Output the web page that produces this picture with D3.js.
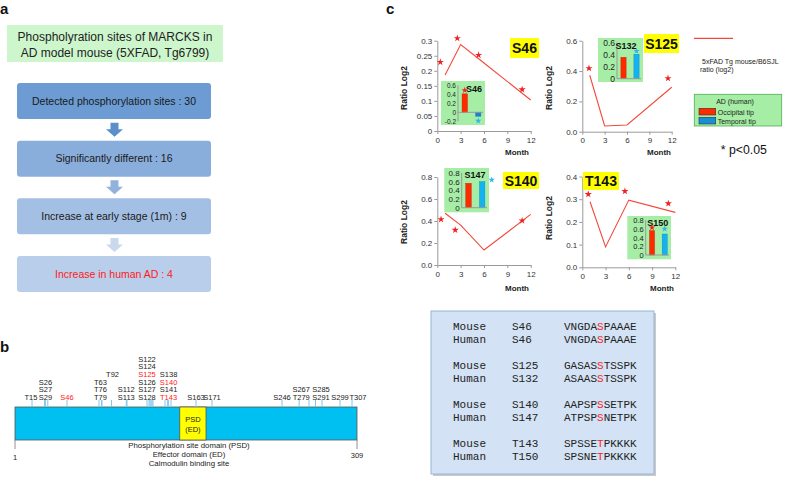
<!DOCTYPE html>
<html><head><meta charset="utf-8">
<script src="https://cdn.jsdelivr.net/npm/d3@7/dist/d3.min.js"></script>
<style>
html,body{margin:0;padding:0;background:#fff;}
svg{display:block;font-family:"Liberation Sans",Arial,Helvetica,sans-serif;}
</style></head>
<body>
<svg id="fig" width="787" height="478"></svg>
<script>
// ================= DATA =================
// Panel a
const flowTitle = ["Phospholyration sites of MARCKS in", "AD model mouse (5XFAD, Tg6799)"];
const flowSteps = ["Detected phosphorylation sites : 30", "Significantly different : 16",
                   "Increase at early stage (1m) : 9", "Increase in human AD : 4"];
const flowHighlight = [false, false, false, true];

// Panel b
const proteinLength = 309;
const psdRange = [150, 168];
const psdLabel = ["PSD", "(ED)"];
const domainNotes = ["Phosphorylation site domain (PSD)", "Effector domain (ED)", "Calmodulin binding site"];
const siteResidues = [15,26,27,29,46,63,76,79,92,112,113,122,124,125,126,127,128,138,140,141,143,163,171,246,267,279,285,291,299,307];
const siteStacks = [["T15"],["S26","S27","S29"],["S46"],["T63","T76","T79"],["T92"],["S112","S113"],
  ["S122","S124","S125","S126","S127","S128"],["S138","S140","S141","T143"],["S163"],["S171"],
  ["S246"],["S267","T279"],["S285","S291"],["S299"],["T307"]];
const stackAnchors = [15,27,46,76,92,112,122,141,163,171,246,267,291,299,307];
const stackBaseRow = [0,0,0,0,3,0,0,0,0,0,0,0,0,0,0];
const redSites = ["S46","S125","S140","T143"];

// Panel c
const months = [1, 3, 6, 12];
const monthTicks = [0, 3, 6, 9, 12];
const monthLabels = ["0", "3", "6", "9", "12"];
const chartNames = ["S46", "S125", "S140", "T143"];
const ratioS46  = [0.186, 0.287, 0.226, 0.103];
const ratioS125 = [0.372, 0.038, 0.044, 0.293];
const ratioS140 = [0.470, 0.362, 0.136, 0.460];
const ratioT143 = [0.289, 0.090, 0.296, 0.242];
const starsS46  = [[0.39,0.229],[2.57,0.308],[5.3,0.252],[10.9,0.138]];
const starsS125 = [[0.9,0.418],[11.5,0.352]];
const starsS140 = [[0.48,0.415],[2.3,0.318],[10.9,0.403]];
const starsT143 = [[0.77,0.322],[5.5,0.335],[11.1,0.281]];
const yTicksS46 = [0,0.05,0.1,0.15,0.2,0.25,0.3];
const yLabelsS46 = ["0","0.05","0.1","0.15","0.2","0.25","0.3"];
const yTicksS125 = [0,0.2,0.4,0.6];
const yLabelsS125 = ["0.0","0.2","0.4","0.6"];
const yTicksS140 = [0,0.2,0.4,0.6,0.8];
const yLabelsS140 = ["0.0","0.2","0.4","0.6","0.8"];
const yTicksT143 = [0,0.1,0.2,0.3,0.4];
const yLabelsT143 = ["0.0","0.1","0.2","0.3","0.4"];

const tissues = ["Occipital tip", "Temporal tip"];
const insetNames = ["S46", "S132", "S147", "S150"];
const insetS46  = [0.41, -0.09];
const insetS132 = [0.357, 0.407];
const insetS147 = [0.56, 0.598];
const insetS150 = [0.559, 0.483];
const insetStarsS46  = [[0, 0.49], [1, -0.19]];
const insetStarsS132 = [[1, 0.46]];
const insetStarsS147 = [[1, 0.64]];
const insetStarsS150 = [[0, 0.63], [1, 0.6]];
const insetTicksS46 = [-0.2,0,0.2,0.4,0.6];
const insetLabelsS46 = ["-0.2","0","0.2","0.4","0.6"];
const insetTicksS132 = [0,0.2,0.4,0.6];
const insetLabelsS132 = ["0","0.2","0.4","0.6"];
const insetTicks08 = [0,0.2,0.4,0.6,0.8];
const insetLabels08 = ["0","0.2","0.4","0.6","0.8"];

const legendLine = ["5xFAD Tg mouse/B6SJL", "ratio (log2)"];
const legendTitle = "AD (human)";
const pNote = "* p<0.05";

const seqSpecies = ["Mouse","Human","Mouse","Human","Mouse","Human","Mouse","Human"];
const seqSites = ["S46","S46","S125","S132","S140","S147","T143","T150"];
const seqPeptides = ["VNGDASPAAAE","VNGDASPAAAE","GASASSTSSPK","ASAASSTSSPK","AAPSPSSETPK","ATPSPSNETPK","SPSSETPKKKK","SPSNETPKKKK"];
const seqSiteIndex = 5;

// ================= DRAW =================
const FONT = "'Liberation Sans', Arial, Helvetica, sans-serif";
const svg = d3.select("#fig");
const RED = "#ee2222";

function letter(t, x, y) {
  svg.append("text").attr("x", x).attr("y", y).attr("font-size", 15).attr("font-weight", "bold")
     .attr("fill", "#111").text(t);
}
letter("a", 0, 14); letter("b", 0, 352); letter("c", 386, 14);

// ---------- Panel a ----------
const gA = svg.append("g");
gA.append("rect").attr("x", 7).attr("y", 25).attr("width", 216).attr("height", 37).attr("fill", "#cdf6cd");
gA.selectAll("text.t").data(flowTitle).join("text").attr("class","t")
  .attr("x", 115).attr("y", (d, i) => 40.7 + i * 16.6).attr("text-anchor", "middle")
  .attr("font-size", 12).attr("fill", "#222").text(d => d);

const stepY = d3.scaleLinear().domain([0, 3]).range([83, 256]);
const stepColors = ["#6c9cd3", "#8aaedb", "#a3bfe4", "#b8ceea"];
const arrowColors = ["#5b8ecb", "#92b1dc", "#cad8ee"];
const boxH = 36;
gA.selectAll("rect.step").data(flowSteps).join("rect").attr("class","step")
  .attr("x", 17).attr("y", (d, i) => stepY(i)).attr("width", 194).attr("height", boxH).attr("rx", 3)
  .attr("fill", (d, i) => stepColors[i]);
gA.selectAll("text.step").data(flowSteps).join("text").attr("class","step")
  .attr("x", 114).attr("y", (d, i) => stepY(i) + boxH / 2 + 3.8).attr("text-anchor", "middle")
  .attr("font-size", 10.5).attr("fill", (d, i) => flowHighlight[i] ? "#ff1a1a" : "#1a1a1a").text(d => d);
function arrowPath(cx, y0, y1) {
  return `M${cx-4},${y0}L${cx+4},${y0}L${cx+4},${y1-7.5}L${cx+8.5},${y1-7.5}L${cx},${y1}L${cx-8.5},${y1-7.5}L${cx-4},${y1-7.5}Z`;
}
d3.range(3).forEach(i => {
  gA.append("path").attr("d", arrowPath(114.5, stepY(i) + boxH + 3.7, stepY(i + 1) - 4)).attr("fill", arrowColors[i]);
});

// ---------- Panel b ----------
const gB = svg.append("g");
const knotRes = [1, 15, 46, 63, 79, 113, 122, 128, 143, 163, 171, 246, 279, 291, 299, 307, 309];
const knotPx  = [15, 32, 67, 99, 102, 127, 147, 153, 171, 196, 212, 282, 309, 322, 340, 352, 357];
const labelShift = [-1,0,0,-1,1,0,0,0,0,0,0,2,-1,0,6];
const rs = d3.scaleLinear().domain(knotRes).range(knotPx);
const barTop = 407, barBot = 440;
gB.append("rect").attr("x", rs(1)).attr("y", barTop).attr("width", rs(proteinLength) - rs(1))
  .attr("height", barBot - barTop).attr("fill", "#00bff1").attr("stroke", "#555").attr("stroke-width", 0.8);
gB.append("rect").attr("x", rs(psdRange[0])).attr("y", barTop).attr("width", rs(psdRange[1]) - rs(psdRange[0]))
  .attr("height", barBot - barTop).attr("fill", "#ffff00").attr("stroke", "#555").attr("stroke-width", 0.8);
psdLabel.forEach((t, i) => gB.append("text").attr("x", (rs(psdRange[0]) + rs(psdRange[1])) / 2)
  .attr("y", 422 + i * 9.5).attr("text-anchor", "middle").attr("font-size", 7.5).attr("fill", "#222").text(t));
gB.selectAll("line.site").data(siteResidues).join("line").attr("class","site")
  .attr("x1", d => rs(d)).attr("x2", d => rs(d)).attr("y1", 400).attr("y2", barTop)
  .attr("stroke", "#82c6ec").attr("stroke-width", 1);
[1, proteinLength].forEach(r => gB.append("line").attr("x1", rs(r)).attr("x2", rs(r))
  .attr("y1", barBot).attr("y2", barBot + 9).attr("stroke", "#777").attr("stroke-width", 0.8));
gB.append("text").attr("x", rs(1)).attr("y", 459.5).attr("text-anchor", "middle").attr("font-size", 7.5).attr("fill", "#222").text("1");
gB.append("text").attr("x", rs(proteinLength)).attr("y", 458).attr("text-anchor", "middle").attr("font-size", 7.5).attr("fill", "#222").text(String(proteinLength));
domainNotes.forEach((t, i) => gB.append("text").attr("x", 189).attr("y", 447.8 + i * 9.3)
  .attr("text-anchor", "middle").attr("font-size", 7.8).attr("fill", "#222").text(t));
siteStacks.forEach((stack, si) => {
  const n = stack.length;
  stack.forEach((lab, k) => {
    const row = stackBaseRow[si] + (n - 1 - k);
    gB.append("text").attr("x", rs(stackAnchors[si]) + labelShift[si]).attr("y", 399.7 - row * 7.6)
      .attr("text-anchor", "middle").attr("font-size", 7.5)
      .attr("fill", redSites.includes(lab) ? "#ff2020" : "#222").text(lab);
  });
});

// ---------- Panel c ----------
const charts = [
  {name: chartNames[0], ratio: ratioS46, stars: starsS46, yTicks: yTicksS46, yLabels: yLabelsS46,
   inset: insetNames[0], vals: insetS46, iStars: insetStarsS46, iTicks: insetTicksS46, iLabels: insetLabelsS46},
  {name: chartNames[1], ratio: ratioS125, stars: starsS125, yTicks: yTicksS125, yLabels: yLabelsS125,
   inset: insetNames[1], vals: insetS132, iStars: insetStarsS132, iTicks: insetTicksS132, iLabels: insetLabelsS132},
  {name: chartNames[2], ratio: ratioS140, stars: starsS140, yTicks: yTicksS140, yLabels: yLabelsS140,
   inset: insetNames[2], vals: insetS147, iStars: insetStarsS147, iTicks: insetTicks08, iLabels: insetLabels08},
  {name: chartNames[3], ratio: ratioT143, stars: starsT143, yTicks: yTicksT143, yLabels: yLabelsT143,
   inset: insetNames[3], vals: insetS150, iStars: insetStarsS150, iTicks: insetTicks08, iLabels: insetLabels08}
];
const layouts = [
  {l: 437.3, r: 530.7, b: 131, t: 40.7, ylab: [407, 88], month: [517, 152], badge: [510, 38, 29, 20],
   ib: [441, 81, 44, 44], iax: 458, iz: 112.3, ipu: 45, ititle: [474, 89], ifs: 6.5, starShift: [0, 0]},
  {l: 582.3, r: 671.7, b: 131.7, t: 40.7, ylab: [552, 88], month: [659, 152], badge: [644, 34, 35, 19],
   ib: [598, 38, 45, 44], iax: 617, iz: 78.7, ipu: 60, ititle: [626, 45.7], ifs: 8.5, starShift: [0, 0]},
  {l: 437.3, r: 530.7, b: 265, t: 177, ylab: [407, 222], month: [517, 288], badge: [503, 172, 36, 17],
   ib: [444.3, 168, 44.7, 44.3], iax: 461.7, iz: 207.7, ipu: 43.5, ititle: [475, 174.3], ifs: 8, starShift: [0, 9.5]},
  {l: 582.3, r: 675.3, b: 267.3, t: 176.5, ylab: [552, 218], month: [662, 288], badge: [583, 172, 36, 18],
   ib: [627.3, 216, 43.7, 43.3], iax: 645.7, iz: 255, ipu: 43.5, ititle: [657.7, 222.7], ifs: 7.5, starShift: [0, 0]}
];
const star = d3.symbol().type(d3.symbolStar);

function styleAxis(a, fs) {
  a.attr("font-family", FONT).attr("font-size", fs);
  a.select(".domain").attr("stroke", "#9a9a9a");
  a.selectAll(".tick line").attr("stroke", "#9a9a9a");
  a.selectAll(".tick text").attr("fill", "#333");
}

charts.forEach((c, i) => {
  const L = layouts[i];
  const g = svg.append("g");
  const x = d3.scaleLinear().domain([0, 12]).range([L.l, L.r]);
  const y = d3.scaleLinear().domain([0, c.yTicks[c.yTicks.length - 1]]).range([L.b, L.t]);
  const ya = g.append("g").attr("transform", `translate(${L.l},0)`)
    .call(d3.axisLeft(y).tickValues(c.yTicks).tickFormat((d, k) => c.yLabels[k]).tickSize(3).tickSizeOuter(0).tickPadding(2));
  styleAxis(ya, 8);
  const xa = g.append("g").attr("transform", `translate(0,${L.b})`)
    .call(d3.axisBottom(x).tickValues(monthTicks).tickFormat((d, k) => monthLabels[k]).tickSize(3).tickSizeOuter(0).tickPadding(3));
  styleAxis(xa, 8);
  g.append("text").attr("transform", `translate(${L.ylab[0]},${L.ylab[1]}) rotate(-90)`)
    .attr("text-anchor", "middle").attr("font-size", 8.5).attr("font-weight", "bold").attr("fill", "#222").text("Ratio Log2");
  g.append("text").attr("x", L.month[0]).attr("y", L.month[1] + 3).attr("text-anchor", "middle")
    .attr("font-size", 8).attr("font-weight", "bold").attr("fill", "#222").text("Month");
  const line = d3.line().x((d, k) => x(months[k])).y(d => y(d));
  g.append("path").datum(c.ratio).attr("d", line).attr("fill", "none").attr("stroke", "#f4483a").attr("stroke-width", 1.1);
  g.selectAll("path.st").data(c.stars).join("path").attr("class","st")
    .attr("d", star.size(16)).attr("transform", d => `translate(${x(d[0])},${y(d[1])})`).attr("fill", RED);
  const [bx, by, bw, bh] = L.badge;
  g.append("rect").attr("x", bx).attr("y", by).attr("width", bw).attr("height", bh).attr("fill", "#ffff00");
  g.append("text").attr("x", bx + bw / 2).attr("y", by + bh / 2 + 5).attr("text-anchor", "middle")
    .attr("font-size", 14).attr("font-weight", "bold").attr("fill", "#111").text(c.name);
  const [ix, iy, iw, ih] = L.ib;
  g.append("rect").attr("x", ix).attr("y", iy).attr("width", iw).attr("height", ih).attr("fill", "#a6eea6");
  const iyS = d3.scaleLinear().domain([0, 1]).range([L.iz, L.iz - L.ipu]);
  const ixS = d3.scaleBand().domain([0, 1]).range([L.iax, ix + iw]).paddingInner(0.6).paddingOuter(0.3);
  const barColors = i === 0 ? ["#ff2a00", "#1f7fd2"] : ["#ff2a00", "#14b2f0"];
  g.selectAll("rect.ib").data(c.vals).join("rect").attr("class","ib")
    .attr("x", (d, k) => ixS(k)).attr("width", ixS.bandwidth())
    .attr("y", d => Math.min(iyS(d), iyS(0))).attr("height", d => Math.abs(iyS(d) - iyS(0)))
    .attr("fill", (d, k) => barColors[k]).attr("stroke", (d, k) => k === 0 ? "#c41a00" : "#1088c0").attr("stroke-width", 0.4);
  const iTop = c.iTicks[c.iTicks.length - 1], iBot = c.iTicks[0];
  const ia = g.append("g").attr("transform", `translate(${L.iax},0)`)
    .call(d3.axisLeft(iyS).tickValues(c.iTicks).tickFormat((d, k) => c.iLabels[k]).tickSize(0).tickPadding(2));
  styleAxis(ia, L.ifs);
  ia.select(".domain").remove();
  ia.selectAll(".tick text").attr("fill", "#222");
  g.append("line").attr("x1", L.iax).attr("x2", L.iax).attr("y1", iyS(iTop)).attr("y2", iyS(iBot)).attr("stroke", "#999");
  g.append("line").attr("x1", L.iax).attr("x2", ix + iw - 2).attr("y1", iyS(0)).attr("y2", iyS(0)).attr("stroke", "#999");
  g.append("text").attr("x", L.ititle[0]).attr("y", L.ititle[1] + 3.3).attr("text-anchor", "middle")
    .attr("font-size", 9).attr("font-weight", "bold").attr("fill", "#111").text(c.inset);
  g.selectAll("path.ist").data(c.iStars).join("path").attr("class","ist")
    .attr("d", star.size(13))
    .attr("transform", d => `translate(${ixS(d[0]) + ixS.bandwidth() / 2 + L.starShift[d[0]]},${iyS(d[1])})`)
    .attr("fill", d => d[0] === 0 ? RED : "#2cb8ee");
});

// Legend
const gL = svg.append("g");
gL.append("line").attr("x1", 694).attr("x2", 733).attr("y1", 38.3).attr("y2", 38.3).attr("stroke", "#f4483a").attr("stroke-width", 1.2);
legendLine.forEach((t, i) => gL.append("text").attr("x", i === 0 ? 702 : 700).attr("y", 63.5 + i * 8.5)
  .attr("font-size", 7).attr("fill", "#222").text(t));
gL.append("rect").attr("x", 694.3).attr("y", 94.3).attr("width", 87.4).attr("height", 31.7)
  .attr("fill", "#a6eea6").attr("stroke", "#55aa55").attr("stroke-width", 0.8);
gL.append("text").attr("x", 735).attr("y", 104).attr("text-anchor", "middle").attr("font-size", 7).attr("fill", "#222").text(legendTitle);
const legColors = ["#ff2a00", "#1a8ed8"];
tissues.forEach((t, i) => {
  gL.append("rect").attr("x", 699).attr("y", 108.3 + i * 9).attr("width", 16.7).attr("height", 6.7)
    .attr("fill", legColors[i]).attr("stroke", "#333").attr("stroke-width", 0.6);
  gL.append("text").attr("x", 717.7).attr("y", 114.5 + i * 9).attr("font-size", 7).attr("fill", "#222").text(t);
});
gL.append("text").attr("x", 720.7).attr("y", 153.5).attr("font-size", 12.3).attr("fill", "#111").text(pNote);

// Sequence box
const gS = svg.append("g");
gS.append("rect").attr("x", 433).attr("y", 313).attr("width", 223).attr("height", 163).attr("fill", "#c9c9c9");
gS.append("rect").attr("x", 431).attr("y", 311).attr("width", 223).attr("height", 163)
  .attr("fill", "#d3e2f4").attr("stroke", "#98b5db").attr("stroke-width", 1);
const rowY = i => 326 + Math.floor(i / 2) * 39 + (i % 2) * 13 + 3.8;
const mono = "'Liberation Mono', 'Courier New', monospace";
seqSpecies.forEach((sp, i) => {
  gS.append("text").attr("x", 453).attr("y", rowY(i)).attr("font-family", mono).attr("font-size", 11).attr("fill", "#222").text(sp);
  gS.append("text").attr("x", 512).attr("y", rowY(i)).attr("font-family", mono).attr("font-size", 11).attr("fill", "#222").text(seqSites[i]);
  const t = gS.append("text").attr("x", 564).attr("y", rowY(i)).attr("font-family", mono).attr("font-size", 11).attr("fill", "#222");
  const p = seqPeptides[i];
  t.append("tspan").text(p.slice(0, seqSiteIndex));
  t.append("tspan").attr("fill", "#ff2020").text(p[seqSiteIndex]);
  t.append("tspan").text(p.slice(seqSiteIndex + 1));
});
</script>
</body></html>
